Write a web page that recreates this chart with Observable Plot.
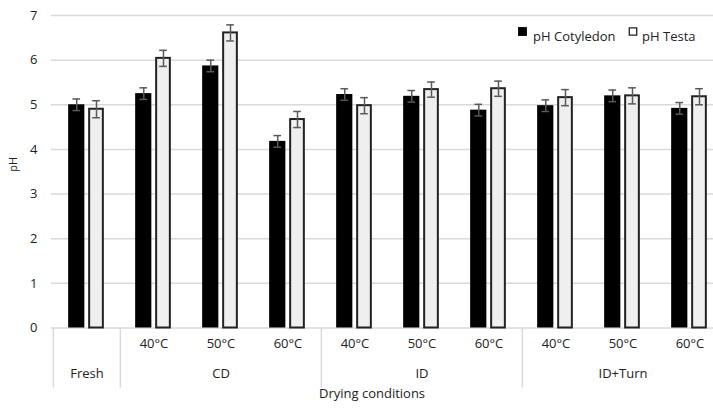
<!DOCTYPE html>
<html>
<head>
<meta charset="utf-8">
<script src="https://cdn.jsdelivr.net/npm/d3@7"></script>
<script src="https://cdn.jsdelivr.net/npm/@observablehq/plot@0.6"></script>
<style>
  html, body { margin: 0; padding: 0; background: #fff; overflow: hidden; }
  #chart { width: 724px; }
  #chart svg { display: block; max-width: none !important; width: 724px; height: 408px; }
</style>
</head>
<body>
<div id="chart"></div>
<script>
// ---- data ----
const keys = ["Fresh", "CD 40", "CD 50", "CD 60", "ID 40", "ID 50", "ID 60", "IDT 40", "IDT 50", "IDT 60"];
const tempLabels = ["", "40°C", "50°C", "60°C", "40°C", "50°C", "60°C", "40°C", "50°C", "60°C"];
const groups = ["Fresh", "CD", "ID", "ID+Turn"];
const groupCenters = ["Fresh", "CD 50", "ID 50", "IDT 50"];
const groupStarts = ["Fresh", "CD 40", "ID 40", "IDT 40"];
const cotyledon = [5.00, 5.25, 5.87, 4.18, 5.23, 5.19, 4.88, 4.98, 5.20, 4.92];
const testa = [4.90, 6.04, 6.61, 4.67, 4.98, 5.34, 5.36, 5.16, 5.20, 5.18];
const cotyledonErr = [0.13, 0.13, 0.13, 0.13, 0.13, 0.13, 0.13, 0.13, 0.13, 0.13];
const testaErr = [0.19, 0.18, 0.18, 0.18, 0.18, 0.17, 0.17, 0.18, 0.18, 0.18];
const yTicks = [0, 1, 2, 3, 4, 5, 6, 7];

// ---- build tables ----
const cot = keys.map((k, i) => ({key: k, v: cotyledon[i], e: cotyledonErr[i]}));
const tes = keys.map((k, i) => ({key: k, v: testa[i], e: testaErr[i]}));
const cats = keys.map((k, i) => ({key: k, label: tempLabels[i]}));
const grp = groups.map((g, i) => ({name: g, center: groupCenters[i], start: groupStarts[i]}));

const W = 724, H = 408, ML = 51, MR = 0, MT = 15, MB = 80.5;
const bw = (W - ML - MR) / keys.length;
const half = bw / 2;
const grid = "#d9d9d9";
const txt = "#222";
const errC = "#595959";
const font = "'Open Sans', Lato, sans-serif";

const cotDx = -10.25, tesDx = 9.5, cap = 4;

const chart = Plot.plot({
  width: W,
  height: H,
  marginLeft: ML,
  marginRight: MR,
  marginTop: MT,
  marginBottom: MB,
  style: {fontFamily: font, color: txt, background: "#fff", maxWidth: "none"},
  x: {type: "band", domain: keys, padding: 0, axis: null},
  y: {domain: [0, 7], ticks: yTicks, axis: null},
  marks: [
    Plot.gridY(yTicks.slice(1), {stroke: grid, strokeOpacity: 1, strokeWidth: 1.5}),
    Plot.ruleY([0], {stroke: grid, strokeWidth: 1.5}),
    Plot.axisY(yTicks, {tickSize: 0, tickPadding: 14, fontSize: 13, label: null, fill: txt}),
    Plot.text(["pH"], {frameAnchor: "left", rotate: -90, dx: -38, fontSize: 11, fill: txt}),
    // bars
    Plot.barY(cot, {x: "key", y: "v", fill: "#000", insetLeft: half - 18.5, insetRight: half + 2}),
    Plot.barY(tes, {x: "key", y: "v", fill: "#efefef", stroke: "#222", strokeWidth: 2,
      insetLeft: half + 2.5, insetRight: half - 16.5}),
    // error bars
    Plot.ruleX(cot, {x: "key", y1: d => d.v - d.e, y2: d => d.v + d.e, dx: cotDx, stroke: errC, strokeWidth: 1.5}),
    Plot.tickY(cot, {x: "key", y: d => d.v - d.e, dx: cotDx, insetLeft: half - cap, insetRight: half - cap, stroke: errC, strokeWidth: 1.5}),
    Plot.tickY(cot, {x: "key", y: d => d.v + d.e, dx: cotDx, insetLeft: half - cap, insetRight: half - cap, stroke: errC, strokeWidth: 1.5}),
    Plot.ruleX(tes, {x: "key", y1: d => d.v - d.e, y2: d => d.v + d.e, dx: tesDx, stroke: errC, strokeWidth: 1.5}),
    Plot.tickY(tes, {x: "key", y: d => d.v - d.e, dx: tesDx, insetLeft: half - cap, insetRight: half - cap, stroke: errC, strokeWidth: 1.5}),
    Plot.tickY(tes, {x: "key", y: d => d.v + d.e, dx: tesDx, insetLeft: half - cap, insetRight: half - cap, stroke: errC, strokeWidth: 1.5}),
    // category axis (two levels)
    Plot.ruleX(grp, {x: "start", y1: 0, y2: 0, dx: -half, insetBottom: -60, stroke: grid, strokeWidth: 1.5}),
    Plot.text(cats, {x: "key", text: "label", frameAnchor: "bottom", dy: 20, fontSize: 13, fill: txt}),
    Plot.text(grp, {x: "center", text: "name", frameAnchor: "bottom", dy: 50, fontSize: 13, fill: txt}),
    Plot.text(["Drying conditions"], {frameAnchor: "bottom", dy: 70, dx: -16, fontSize: 13, fill: txt}),
    // legend
    Plot.dot([0], {frameAnchor: "top-right", dx: -202, dy: 16, symbol: "square", r: 5, fill: "#000"}),
    Plot.text(["pH Cotyledon"], {frameAnchor: "top-right", dx: -109, dy: 16, textAnchor: "end", fontSize: 13, fill: txt}),
    Plot.dot([0], {frameAnchor: "top-right", dx: -91.5, dy: 16, symbol: "square", r: 4.2, fill: "#fff", stroke: "#222", strokeWidth: 1.3}),
    Plot.text(["pH Testa"], {frameAnchor: "top-right", dx: -29, dy: 16, textAnchor: "end", fontSize: 13, fill: txt})
  ]
});
document.getElementById("chart").appendChild(chart);
</script>
</body>
</html>
